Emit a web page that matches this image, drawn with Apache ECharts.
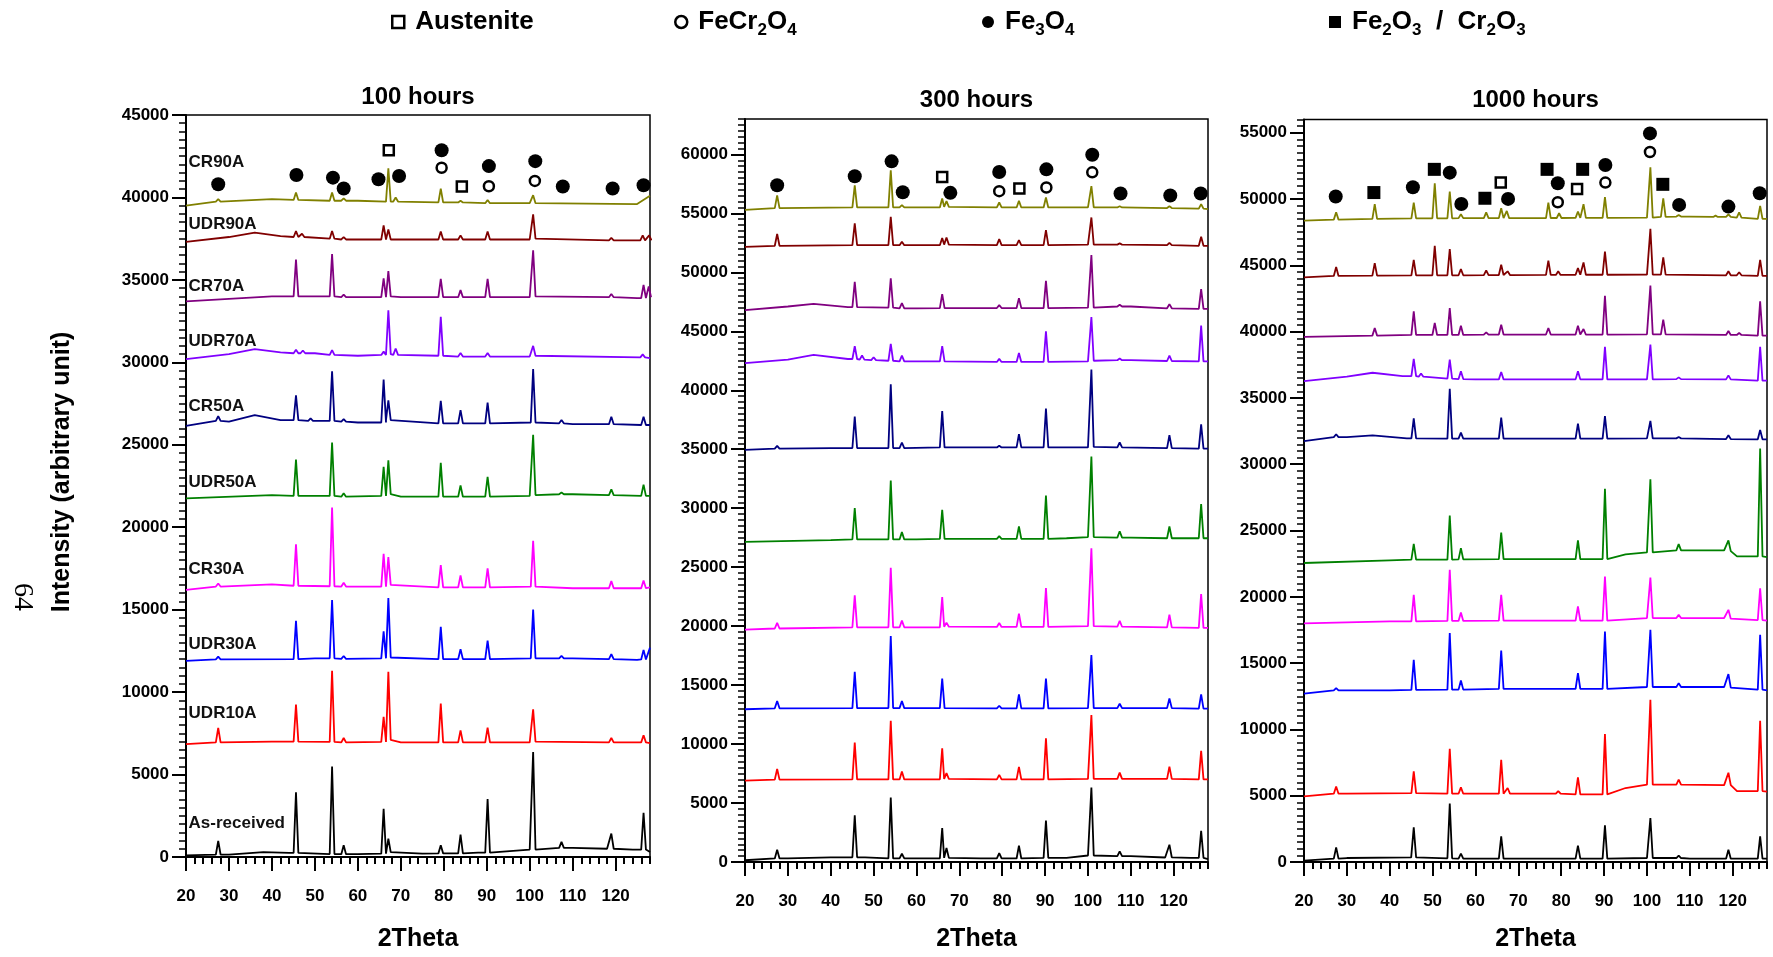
<!DOCTYPE html>
<html>
<head>
<meta charset="utf-8">
<title>XRD patterns after 100, 300 and 1000 hours</title>
<script src="https://cdn.jsdelivr.net/npm/echarts@6/dist/echarts.min.js"></script>
<style>
  html, body { margin: 0; padding: 0; background: #ffffff; }
  #chart { width: 1773px; height: 957px; }
</style>
</head>
<body>
<div id="chart"></div>
<script>
// ---------------------------------------------------------------------------
// Data: 2Theta (deg) / intensity (counts, stacked with offsets per sample)
// ---------------------------------------------------------------------------
const samples = ['As-received', 'UDR10A', 'UDR30A', 'CR30A', 'UDR50A', 'CR50A', 'UDR70A', 'CR70A', 'UDR90A', 'CR90A'];
const panelTitles = ['100 hours', '300 hours', '1000 hours'];
const xTickValues = [20, 30, 40, 50, 60, 70, 80, 90, 100, 110, 120];
const yTicks100 = [0, 5000, 10000, 15000, 20000, 25000, 30000, 35000, 40000, 45000];
const yTicks300 = [0, 5000, 10000, 15000, 20000, 25000, 30000, 35000, 40000, 45000, 50000, 55000, 60000];
const yTicks1000 = [0, 5000, 10000, 15000, 20000, 25000, 30000, 35000, 40000, 45000, 50000, 55000];

// background level of each pattern: [2Theta, intensity]
const bases100 = [
  [[20,100],[30,150],[38,300],[44,250],[60,180],[75,200],[88,260],[100,450],[110,550],[118,500],[124,450],[128,300]],
  [[20,6850],[40,7000],[70,6950],[100,6950],[128,6900]],
  [[20,11900],[50,12050],[80,12000],[110,12050],[125,11950],[128,12700]],
  [[20,16200],[40,16530],[60,16400],[88,16350],[110,16300],[128,16350]],
  [[20,21750],[40,21950],[70,21850],[100,21900],[110,22000],[128,21900]],
  [[20,26140],[30,26400],[36,26800],[42,26500],[60,26350],[88,26300],[110,26250],[128,26200]],
  [[20,30200],[30,30500],[36,30800],[42,30600],[50,30550],[60,30400],[80,30350],[100,30350],[128,30260]],
  [[20,33700],[40,34000],[70,33950],[100,33950],[125,33900]],
  [[20,37300],[30,37600],[36,37860],[42,37650],[60,37450],[100,37450],[125,37400]],
  [[20,39500],[40,39900],[60,39800],[80,39700],[100,39650],[125,39600],[128,40100]]
];
// reflections of each pattern: [2Theta, foot intensity, peak intensity]
const peaks100 = [
  [[27.5,150,970],[45.6,250,3920],[54.0,180,5490],[56.7,170,710],[66.0,200,2930],[67.1,300,1120],[79.3,220,710],[83.9,220,1360],[90.2,260,3520],[100.8,450,6360],[107.4,550,915],[119.0,500,1420],[126.5,450,2680]],
  [[27.5,6950,7825],[45.6,7000,9250],[54.0,6980,11300],[56.7,6950,7215],[66.0,6980,8500],[67.1,7100,11240],[79.3,6950,9310],[83.9,6950,7680],[90.2,6950,7845],[100.8,7000,8960],[119.0,6950,7215],[126.5,6950,7380]],
  [[27.5,11990,12150],[45.6,12000,14330],[54.0,12050,15590],[56.7,12020,12190],[66.0,12050,13680],[67.1,12100,15710],[79.3,12000,13960],[83.9,12000,12600],[90.2,12000,13130],[100.8,12050,15000],[107.4,12050,12200],[119.0,12000,12300],[126.5,11980,12560]],
  [[27.5,16400,16590],[45.6,16450,18960],[54.0,16420,21200],[56.7,16400,16630],[66.0,16400,18390],[67.1,16500,18190],[79.3,16350,17700],[83.9,16350,17070],[90.2,16350,17500],[100.8,16400,19170],[119.0,16300,16730],[126.5,16300,16770]],
  [[45.6,21900,24100],[54.0,21900,25140],[56.7,21850,22060],[66.0,21900,23660],[67.1,22000,24060],[79.3,21850,23900],[83.9,21850,22540],[90.2,21850,23060],[100.8,21950,25600],[107.4,22000,22100],[119.0,21950,22300],[126.5,21900,22580]],
  [[27.5,26450,26740],[45.6,26500,28000],[49.0,26450,26600],[54.0,26450,29460],[56.7,26400,26550],[66.0,26350,28960],[67.1,26500,27700],[79.3,26300,27660],[83.9,26300,27100],[90.2,26300,27560],[100.8,26350,29600],[107.4,26300,26500],[119.0,26250,26700],[126.5,26200,26700]],
  [[45.6,30550,30760],[47.2,30550,30720],[54.0,30450,30740],[66.0,30450,30650],[67.1,30500,33160],[68.8,30450,30840],[79.3,30400,32760],[83.9,30350,30560],[90.2,30350,30560],[100.8,30400,31000],[126.3,30300,30480]],
  [[45.6,34000,36240],[54.0,34000,36560],[56.7,33950,34100],[66.0,33950,35100],[67.1,34000,35540],[79.3,33950,35060],[83.9,33950,34380],[90.2,33950,35060],[100.8,34000,36800],[119.0,33950,34140],[126.5,33900,34700],[127.7,33950,34600]],
  [[45.6,37600,37960],[47.0,37600,37800],[54.0,37500,37960],[56.7,37450,37600],[66.0,37450,38300],[67.1,37450,38060],[79.3,37450,37940],[83.9,37450,37700],[90.2,37450,37940],[100.8,37500,38980],[119.0,37400,37550],[126.3,37400,37700],[127.8,37400,37700]],
  [[27.5,39750,39900],[45.6,39850,40300],[54.0,39800,40300],[56.7,39800,39950],[67.1,39750,41760],[68.8,39750,40000],[79.3,39700,40540],[83.9,39700,39800],[90.2,39650,39850],[100.8,39650,40140]]
];

const bases300 = [
  [[20,150],[30,300],[40,400],[48,400],[55,300],[75,300],[95,350],[100,550],[110,500],[118,380],[124,350],[128,250]],
  [[20,6900],[50,7000],[100,7050],[128,7000]],
  [[20,12950],[50,13050],[100,13050],[128,13000]],
  [[20,19700],[50,19900],[80,19930],[100,20000],[128,19850]],
  [[20,27150],[40,27300],[60,27350],[95,27450],[100,27550],[110,27500],[128,27450]],
  [[20,34950],[40,35100],[70,35150],[100,35150],[128,35050]],
  [[20,42300],[30,42600],[36,43000],[44,42650],[60,42450],[80,42380],[100,42450],[110,42550],[128,42450]],
  [[20,46800],[30,47100],[36,47330],[44,47050],[60,46950],[100,47000],[110,47100],[128,46900]],
  [[20,52150],[50,52300],[100,52350],[128,52250]],
  [[20,55300],[50,55500],[100,55500],[128,55350]]
];
const peaks300 = [
  [[27.5,300,1040],[45.6,400,3950],[54.0,300,5470],[56.6,300,700],[66.0,300,2875],[67.0,350,1180],[79.3,300,760],[83.9,300,1380],[90.2,350,3520],[100.8,550,6315],[107.4,500,900],[119.0,400,1470],[126.4,350,2650]],
  [[27.5,6980,7890],[45.6,7000,10120],[54.0,7000,11980],[56.6,7000,7670],[66.0,7000,9640],[67.0,7050,7530],[79.3,7000,7390],[83.9,7000,8060],[90.2,7000,10490],[100.8,7050,12460],[107.4,7050,7580],[119.0,7050,8090],[126.4,7000,9420]],
  [[27.5,13030,13650],[45.6,13050,16130],[54.0,13050,19170],[56.6,13050,13650],[66.0,13050,15560],[79.3,13030,13250],[83.9,13030,14210],[90.2,13030,15560],[100.8,13050,17540],[107.4,13050,13420],[119.0,13050,13870],[126.4,13000,14210]],
  [[27.5,19800,20270],[45.6,19900,22610],[54.0,19900,24950],[56.6,19900,20470],[66.0,19900,22470],[67.0,19950,20300],[79.3,19930,20270],[83.9,19930,21060],[90.2,19930,23230],[100.8,20000,26610],[107.4,19950,20440],[119.0,19900,20980],[126.4,19850,22720]],
  [[45.6,27350,30000],[54.0,27350,32340],[56.6,27350,27970],[66.0,27400,29860],[79.3,27400,27630],[83.9,27400,28450],[90.2,27400,31070],[100.8,27550,34390],[107.4,27500,28050],[119.0,27450,28450],[126.4,27450,30360]],
  [[27.5,35050,35290],[45.6,35100,37760],[54.0,35100,40500],[56.6,35100,35570],[66.0,35150,38240],[79.3,35150,35300],[83.9,35150,36270],[90.2,35150,38440],[100.8,35200,41760],[107.4,35150,35570],[119.0,35100,36190],[126.4,35050,37110]],
  [[45.6,42650,43730],[47.3,42600,42940],[50.0,42550,42800],[54.0,42500,43930],[56.6,42450,42940],[66.0,42450,43730],[79.3,42400,42660],[83.9,42400,43160],[90.2,42400,45000],[100.8,42500,46210],[107.4,42550,42700],[119.0,42480,42940],[126.4,42450,45480]],
  [[45.6,47050,49190],[54.0,47000,49500],[56.6,46950,47390],[66.0,46970,48150],[79.3,46970,47220],[83.9,46970,47810],[90.2,46970,49270],[100.8,47000,51470],[107.4,47100,47250],[119.0,46950,47300],[126.4,46900,48570]],
  [[27.5,52250,53250],[45.6,52300,54150],[54.0,52300,54710],[56.6,52300,52600],[66.0,52300,52910],[67.0,52350,52950],[79.3,52300,52820],[83.9,52300,52730],[90.2,52300,53580],[100.8,52350,54650],[107.4,52350,52450],[119.0,52300,52500],[126.4,52250,53020]],
  [[27.5,55450,56530],[45.6,55500,57380],[54.0,55500,58650],[56.6,55500,55700],[66.0,55500,56260],[67.0,55550,56030],[79.3,55500,55920],[83.9,55500,56060],[90.2,55500,56340],[100.8,55500,57300],[107.4,55500,55600],[119.0,55450,55600],[126.4,55400,55780]]
];

const bases1000 = [
  [[20,100],[30,300],[45,350],[60,250],[88,250],[100,300],[110,250],[128,250]],
  [[20,4950],[30,5150],[60,5150],[88,5100],[95,5580],[100,5830],[118,5800],[121,5350],[128,5300]],
  [[20,12700],[40,12950],[70,13050],[88,13050],[100,13200],[118,13200],[128,12950]],
  [[20,18000],[40,18150],[88,18200],[100,18400],[118,18400],[128,18200]],
  [[20,22550],[40,22750],[88,22850],[95,23200],[100,23350],[118,23500],[121,23050],[128,23000]],
  [[20,31750],[30,32050],[36,32180],[44,31950],[60,31930],[100,31950],[128,31880]],
  [[20,36270],[30,36600],[36,36900],[43,36650],[50,36550],[60,36400],[100,36400],[128,36300]],
  [[20,39600],[50,39750],[100,39800],[128,39700]],
  [[20,44100],[50,44250],[100,44300],[128,44200]],
  [[20,48380],[50,48550],[100,48600],[110,48680],[128,48500]]
];
const peaks1000 = [
  [[27.5,250,1100],[45.6,350,2610],[54.0,280,4400],[56.6,260,630],[66.0,250,1930],[83.9,250,1230],[90.2,250,2760],[100.8,300,3320],[107.4,300,480],[119.0,250,930],[126.4,250,1930]],
  [[27.5,5150,5700],[45.6,5200,6830],[54.0,5150,8540],[56.6,5150,5630],[66.0,5150,7710],[67.5,5150,5580],[79.3,5150,5350],[83.9,5100,6380],[90.2,5100,9650],[100.8,5830,12240],[107.4,5830,6210],[119.0,5800,6730],[126.4,5350,10650]],
  [[27.5,12950,13120],[45.6,12980,15250],[54.0,13000,17260],[56.6,13000,13690],[66.0,13050,15950],[83.9,13050,14250],[90.2,13050,17390],[100.8,13200,17510],[107.4,13200,13490],[119.0,13150,14170],[126.4,13000,17140]],
  [[45.6,18150,20150],[54.0,18180,22040],[56.6,18180,18820],[66.0,18200,20150],[83.9,18200,19270],[90.2,18200,21530],[100.8,18400,21460],[107.4,18400,18640],[119.0,18350,19020],[126.4,18250,20650]],
  [[45.6,22800,23990],[54.0,22800,26130],[56.6,22820,23670],[66.0,22840,24850],[83.9,22850,24250],[90.2,22850,28140],[100.8,23350,28870],[107.4,23500,23970],[119.0,23450,24250],[126.4,23050,31180]],
  [[27.5,32050,32260],[45.6,31950,33460],[54.0,31930,35690],[56.6,31930,32380],[66.0,31930,33510],[83.9,31930,33060],[90.2,31930,33640],[100.8,31950,33270],[107.4,31950,32050],[119.0,31900,32180],[126.4,31880,32580]],
  [[45.6,36650,37950],[47.3,36600,36850],[54.0,36450,37900],[56.6,36420,37020],[66.0,36400,36950],[83.9,36400,37020],[90.2,36400,38850],[100.8,36400,39030],[107.4,36420,36550],[119.0,36400,36700],[126.4,36300,38850]],
  [[36.5,39700,40270],[45.6,39750,41530],[50.5,39750,40650],[54.0,39750,41780],[56.6,39750,40450],[62.5,39780,39950],[66.0,39780,40520],[77.0,39780,40280],[83.9,39780,40450],[85.2,39780,40200],[90.2,39780,42710],[100.8,39800,43470],[103.8,39800,40910],[119.0,39750,40050],[121.5,39750,39900],[126.4,39700,42280]],
  [[27.5,44200,44870],[36.5,44220,45170],[45.6,44250,45420],[50.5,44250,46470],[54.0,44250,46220],[56.6,44250,44720],[62.5,44260,44620],[66.0,44270,45050],[67.5,44270,44550],[77.0,44280,45350],[79.3,44280,44550],[83.9,44290,44790],[85.2,44290,45220],[90.2,44290,46040],[100.8,44300,47750],[103.8,44300,45600],[119.0,44250,44550],[121.5,44250,44480],[126.4,44200,45420]],
  [[27.5,48450,49010],[36.5,48500,49610],[45.6,48550,49730],[50.5,48550,51190],[54.0,48550,50560],[56.6,48560,48860],[62.5,48560,48990],[66.0,48560,49310],[67.3,48560,49100],[77.0,48570,49730],[79.5,48570,48930],[83.9,48580,49060],[85.2,48580,49610],[90.2,48580,50140],[100.8,48600,52390],[103.8,48650,50060],[107.4,48680,48800],[116.0,48650,48750],[119.0,48650,48850],[121.5,48600,48990],[126.4,48500,49480]]
];

// phase identification markers: [2Theta, intensity]
const austenite100 = [[67.2,42860],[84.2,40660]];
const spinel100 = [[79.5,41800],[90.5,40680],[101.2,41000]];
const magnetite100 = [[27.5,40800],[45.7,41360],[54.2,41200],[56.7,40540],[64.8,41100],[69.6,41300],[79.5,42860],[90.5,41900],[101.3,42200],[107.7,40660],[119.3,40540],[126.5,40740]];

const austenite300 = [[66.0,58090],[84.0,57100]];
const spinel300 = [[79.3,56880],[90.3,57190],[101.0,58480]];
const magnetite300 = [[27.5,57380],[45.6,58140],[54.2,59410],[56.8,56790],[67.9,56740],[79.3,58510],[90.3,58730],[101.0,59970],[107.6,56680],[119.2,56510],[126.3,56680]];

const austenite1000 = [[65.9,51240],[83.7,50760]];
const spinel1000 = [[79.2,49760],[90.3,51240],[100.7,53550]];
const magnetite1000 = [[27.4,50190],[45.4,50890],[54.0,51990],[56.7,49630],[67.6,50010],[79.2,51190],[90.3,52570],[100.7,54950],[107.5,49560],[119.0,49430],[126.3,50440]];
const hematite1000 = [[36.3,50490],[50.4,52240],[62.2,50060],[76.7,52240],[85.0,52240],[103.7,51110]];

// ---------------------------------------------------------------------------
// Layout and styling
// ---------------------------------------------------------------------------
const FONT = '"Liberation Sans", Arial, Helvetica, sans-serif';
const palette = ['#000000', '#ff0000', '#0000ff', '#ff00ff', '#008000', '#000080', '#8000ff', '#800080', '#800000', '#808000'];
const gridBoxes = [
  { left: 186, top: 115, width: 464, height: 744 },
  { left: 745, top: 119, width: 463, height: 745 },
  { left: 1304, top: 119.5, width: 463, height: 744.5 }
];
const yMaxes = [45000, 63000, 56000];
const yTickSets = [yTicks100, yTicks300, yTicks1000];
const bases = [bases100, bases300, bases1000];
const peaks = [peaks100, peaks300, peaks1000];
const titleTops = [85, 88, 88];
const nameGaps = [70, 65, 65];
// vertical placement of the sample names inside the 100 h panel
const labelLevels = [2050, 8740, 12910, 17420, 22750, 27330, 31290, 34640, 38390, 42150];
const PEAK_HALF_WIDTH = 0.55; // deg 2Theta

const phases = [
  { name: 'Austenite', symbol: 'rect', size: 10,
    style: { color: '#ffffff', borderColor: '#000000', borderWidth: 2.5, opacity: 1 },
    sets: [austenite100, austenite300, austenite1000] },
  { name: 'FeCr2O4', symbol: 'circle', size: 10,
    style: { color: '#ffffff', borderColor: '#000000', borderWidth: 2.5, opacity: 1 },
    sets: [spinel100, spinel300, spinel1000] },
  { name: 'Fe3O4', symbol: 'circle', size: 14,
    style: { color: '#000000', opacity: 1 },
    sets: [magnetite100, magnetite300, magnetite1000] },
  { name: 'Fe2O3 / Cr2O3', symbol: 'rect', size: 13,
    style: { color: '#000000', opacity: 1 },
    sets: [[], [], hematite1000] }
];
const legendLefts = [391, 674, 982, 1329];
const phaseLabels = {
  'Austenite': 'Austenite',
  'FeCr2O4': 'FeCr{s|2}O{s|4}',
  'Fe3O4': 'Fe{s|3}O{s|4}',
  'Fe2O3 / Cr2O3': 'Fe{s|2}O{s|3}  /  Cr{s|2}O{s|3}'
};

// pattern polyline: background points plus a narrow triangle for each reflection
function buildTrace(base, refl) {
  const pts = base.map(p => [p[0], p[1]]);
  refl.forEach(([t, foot, top]) => {
    pts.push([t - PEAK_HALF_WIDTH, foot], [t, top], [t + PEAK_HALF_WIDTH, foot]);
  });
  return pts.sort((a, b) => a[0] - b[0]);
}

const boldText = (size) => ({ fontSize: size, fontWeight: 'bold', fontFamily: FONT, color: '#000000' });
const plainNumber = v => String(v);

const grids = gridBoxes.map(b => Object.assign({
  show: true, borderColor: '#000000', borderWidth: 1.5, backgroundColor: 'transparent'
}, b));

const xAxes = [];
const yAxes = [];
const series = [];

panelTitles.forEach((t, i) => {
  // major x ticks with labels
  xAxes.push({
    gridIndex: i, type: 'value', min: 20, max: 128, interval: 10, position: 'bottom',
    axisLine: { show: true, onZero: false, lineStyle: { color: '#000000', width: 2 } },
    axisTick: { show: true, customValues: xTickValues, length: 14, lineStyle: { color: '#000000', width: 2 } },
    axisLabel: Object.assign({ show: true, customValues: xTickValues, margin: 31, formatter: plainNumber }, boldText(17)),
    splitLine: { show: false },
    name: '2Theta', nameLocation: 'middle', nameGap: nameGaps[i],
    nameTextStyle: boldText(25)
  });
  // minor x ticks every 2 deg
  xAxes.push({
    gridIndex: i, type: 'value', min: 20, max: 128, interval: 2, position: 'bottom',
    axisLine: { show: false, onZero: false },
    axisTick: { show: true, length: 7, lineStyle: { color: '#000000', width: 2 } },
    axisLabel: { show: false }, splitLine: { show: false }
  });
  // major y ticks with labels
  yAxes.push({
    gridIndex: i, type: 'value', min: 0, max: yMaxes[i], interval: 5000, position: 'left',
    axisLine: { show: true, onZero: false, lineStyle: { color: '#000000', width: 2 } },
    axisTick: { show: true, customValues: yTickSets[i], length: 14, lineStyle: { color: '#000000', width: 2 } },
    axisLabel: Object.assign({ show: true, customValues: yTickSets[i], margin: 17, formatter: plainNumber }, boldText(17)),
    splitLine: { show: false }
  });
  // minor y ticks every 500
  yAxes.push({
    gridIndex: i, type: 'value', min: 0, max: yMaxes[i], interval: 500, position: 'left',
    axisLine: { show: false, onZero: false },
    axisTick: { show: true, length: 7, lineStyle: { color: '#000000', width: 1.5 } },
    axisLabel: { show: false }, splitLine: { show: false }
  });

  samples.forEach((s, k) => {
    series.push({
      type: 'line', name: s + ' (' + t + ')',
      xAxisIndex: 2 * i, yAxisIndex: 2 * i,
      data: buildTrace(bases[i][k], peaks[i][k]),
      showSymbol: false, symbol: 'none', silent: true,
      lineStyle: { color: palette[k], width: 1.8 },
      itemStyle: { color: palette[k] },
      z: 2
    });
  });

  phases.forEach(ph => {
    if (!ph.sets[i].length) return;
    series.push({
      type: 'scatter', name: ph.name,
      xAxisIndex: 2 * i, yAxisIndex: 2 * i,
      data: ph.sets[i], symbol: ph.symbol, symbolSize: ph.size,
      itemStyle: ph.style, silent: true, clip: false, z: 5
    });
  });
});

// sample names next to the 100 h patterns
series.push({
  type: 'scatter', name: 'sample names', xAxisIndex: 0, yAxisIndex: 0,
  symbolSize: 0, silent: true, z: 6,
  itemStyle: { opacity: 1 },
  data: samples.map((s, k) => ({ name: s, value: [20.6, labelLevels[k]] })),
  label: Object.assign({ show: true, position: 'right', distance: 0, formatter: '{b}' },
    boldText(17), { color: '#111111', opacity: 1 })
});

const option = {
  animation: false,
  backgroundColor: '#ffffff',
  title: panelTitles.map((t, i) => ({
    text: t, left: gridBoxes[i].left + gridBoxes[i].width / 2, top: titleTops[i],
    textAlign: 'center', padding: 0, textStyle: boldText(24)
  })),
  legend: phases.map((ph, j) => ({
    left: legendLefts[j], top: 5, padding: 0, itemWidth: 12, itemHeight: 12,
    selectedMode: false,
    data: [{ name: ph.name, icon: ph.symbol, itemStyle: ph.style }],
    formatter: name => phaseLabels[name],
    textStyle: Object.assign(boldText(26), {
      lineHeight: 34, padding: [0, 0, 0, 6],
      rich: { s: Object.assign(boldText(17), { lineHeight: 17, verticalAlign: 'bottom' }) }
    })
  })),
  grid: grids,
  xAxis: xAxes,
  yAxis: yAxes,
  series: series,
  graphic: [
    { type: 'text', x: 62, y: 472, rotation: Math.PI / 2,
      style: { text: 'Intensity (arbitrary unit)', font: 'bold 25px "Liberation Sans", Arial, sans-serif',
               fill: '#000000', align: 'center', verticalAlign: 'middle' } },
    { type: 'text', x: 22, y: 597, rotation: -Math.PI / 2,
      style: { text: '64', font: '28px "Liberation Serif", "Times New Roman", serif',
               fill: '#000000', align: 'center', verticalAlign: 'middle' } }
  ]
};

const chart = echarts.init(document.getElementById('chart'), null, { renderer: 'canvas' });
chart.setOption(option);
</script>
</body>
</html>
